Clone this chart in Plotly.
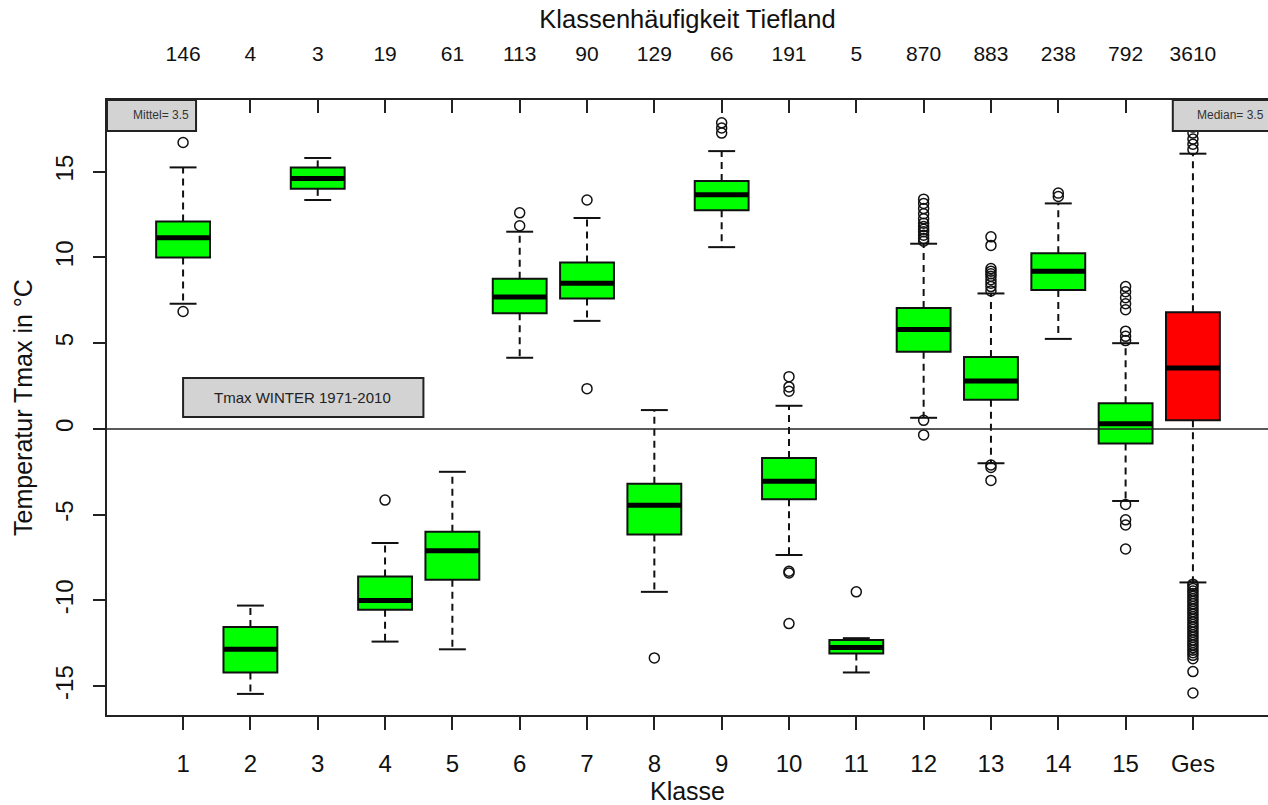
import plotly.graph_objects as go

# ---------------- data ----------------
classes = ["1", "2", "3", "4", "5", "6", "7", "8", "9", "10", "11", "12", "13", "14", "15", "Ges"]
counts = ["146", "4", "3", "19", "61", "113", "90", "129", "66", "191", "5", "870", "883", "238", "792", "3610"]

whisker_low = [7.3, -15.45, 13.35, -12.4, -12.85, 4.15, 6.3, -9.5, 10.6, -7.35, -14.2, 0.65, -2.0, 5.25, -4.2, -8.95]
q1 = [10.0, -14.2, 14.0, -10.55, -8.8, 6.75, 7.6, -6.15, 12.75, -4.1, -13.1, 4.5, 1.7, 8.1, -0.85, 0.5]
median = [11.15, -12.85, 14.6, -10.0, -7.1, 7.7, 8.5, -4.45, 13.65, -3.05, -12.75, 5.8, 2.8, 9.2, 0.3, 3.55]
q3 = [12.1, -11.55, 15.25, -8.6, -6.0, 8.75, 9.7, -3.2, 14.45, -1.7, -12.3, 7.05, 4.2, 10.25, 1.5, 6.8]
whisker_high = [15.25, -10.3, 15.8, -6.65, -2.5, 11.5, 12.3, 1.1, 16.2, 1.35, -12.2, 10.8, 7.9, 13.15, 5.0, 16.05]

outliers = [
    [16.7, 6.85],
    [],
    [],
    [-4.15],
    [],
    [11.85, 12.6],
    [13.35, 2.35],
    [-13.35],
    [17.25, 17.55, 17.85],
    [2.2, 2.45, 3.05, -8.3, -8.4, -11.35],
    [-9.5],
    [10.95, 11.1, 11.3, 11.5, 11.65, 11.8, 12.0, 12.25, 12.55, 12.85, 13.15, 13.4, 0.5, -0.35],
    [8.05, 8.3, 8.5, 8.7, 8.9, 9.05, 9.2, 9.35, 10.7, 11.2, -2.1, -2.25, -3.0],
    [13.55, 13.75],
    [5.15, 5.4, 5.7, 6.95, 7.3, 7.65, 8.0, 8.3, -4.4, -5.3, -5.6, -7.0],
    [16.3, 16.6, 16.9, 17.25, 17.6,
     -9.05, -9.15, -9.3, -9.45, -9.6, -9.75, -9.9, -10.05, -10.2, -10.35, -10.5, -10.65,
     -10.8, -10.95, -11.1, -11.25, -11.4, -11.55, -11.7, -11.85, -12.0, -12.15, -12.3,
     -12.45, -12.6, -12.75, -12.9, -13.05, -13.2, -13.4, -14.15, -15.4],
]

mean_text = "Mittel= 3.5"
median_text = "Median= 3.5"
period_text = "Tmax WINTER 1971-2010"

# ---------------- figure ----------------
FONT = "Liberation Sans, Arial, sans-serif"
xpos = list(range(1, len(classes) + 1))
n_green = 15

fig = go.Figure()

# boxes (whiskers drawn separately as dashed lines, like R)
fig.add_trace(go.Box(
    x=xpos[:n_green], q1=q1[:n_green], median=median[:n_green], q3=q3[:n_green],
    lowerfence=q1[:n_green], upperfence=q3[:n_green],
    width=0.8, whiskerwidth=0, fillcolor="#00FF00",
    line=dict(color="#111111", width=2), boxpoints=False, hoverinfo="skip", showlegend=False))
fig.add_trace(go.Box(
    x=xpos[n_green:], q1=q1[n_green:], median=median[n_green:], q3=q3[n_green:],
    lowerfence=q1[n_green:], upperfence=q3[n_green:],
    width=0.8, whiskerwidth=0, fillcolor="#FF0000",
    line=dict(color="#111111", width=2), boxpoints=False, hoverinfo="skip", showlegend=False))

# dashed whiskers
wx, wy = [], []
for i, xv in enumerate(xpos):
    wx += [xv, xv, None, xv, xv, None]
    wy += [q3[i], whisker_high[i], None, q1[i], whisker_low[i], None]
fig.add_trace(go.Scatter(x=wx, y=wy, mode="lines", line=dict(color="#111111", width=2, dash="7px,5px"),
                         hoverinfo="skip", showlegend=False))

# caps
cx, cy = [], []
for i, xv in enumerate(xpos):
    cx += [xv - 0.2, xv + 0.2, None, xv - 0.2, xv + 0.2, None]
    cy += [whisker_high[i], whisker_high[i], None, whisker_low[i], whisker_low[i], None]
fig.add_trace(go.Scatter(x=cx, y=cy, mode="lines", line=dict(color="#111111", width=2),
                         hoverinfo="skip", showlegend=False))

# thick medians
mx, my = [], []
for i, xv in enumerate(xpos):
    mx += [xv - 0.4, xv + 0.4, None]
    my += [median[i], median[i], None]
fig.add_trace(go.Scatter(x=mx, y=my, mode="lines", line=dict(color="#000000", width=5),
                         hoverinfo="skip", showlegend=False))

# outliers
ox, oy = [], []
for i, xv in enumerate(xpos):
    ox += [xv] * len(outliers[i])
    oy += outliers[i]
fig.add_trace(go.Scatter(x=ox, y=oy, mode="markers",
                         marker=dict(symbol="circle-open", size=10, color="#111111", line=dict(width=1.5)),
                         hoverinfo="skip", showlegend=False))

# dummy trace to activate the top axis
fig.add_trace(go.Scatter(x=[xpos[0]], y=[0], xaxis="x2", mode="markers", opacity=0,
                         hoverinfo="skip", showlegend=False))

# zero line
fig.add_shape(type="line", xref="paper", x0=0, x1=1, yref="y", y0=0, y1=0,
              line=dict(color="#222222", width=1.5), layer="above")

# "Tmax WINTER" box
fig.add_shape(type="rect", xref="x", yref="y", x0=1.0, x1=4.57, y0=0.7, y1=2.97,
              fillcolor="#D3D3D3", line=dict(color="#222222", width=2), layer="above")
fig.add_annotation(x=2.78, y=1.84, xref="x", yref="y", text=period_text, showarrow=False,
                   xanchor="center", yanchor="middle",
                   font=dict(family=FONT, size=15, color="#222222"))

# Mittel / Median boxes at the top corners
fig.add_shape(type="rect", xref="paper", yref="paper", x0=0, x1=0.0767, y0=0.9496, y1=1.0,
              fillcolor="#D3D3D3", line=dict(color="#222222", width=2), layer="above")
fig.add_annotation(x=0.0724, y=0.9756, xref="paper", yref="paper", xanchor="right", yanchor="middle",
                   text=mean_text, showarrow=False, font=dict(family=FONT, size=12, color="#333333"))
fig.add_shape(type="rect", xref="paper", yref="paper", x0=0.918, x1=1.02, y0=0.9496, y1=1.0,
              fillcolor="#D3D3D3", line=dict(color="#222222", width=2), layer="above")
fig.add_annotation(x=0.9983, y=0.9756, xref="paper", yref="paper", xanchor="right", yanchor="middle",
                   text=median_text, showarrow=False, font=dict(family=FONT, size=12, color="#333333"))

xr = [-0.13, 17.115]
fig.update_layout(
    width=1268, height=805,
    margin=dict(l=107, r=0, t=100, b=90),
    paper_bgcolor="white", plot_bgcolor="white",
    boxmode="overlay",
    font=dict(family=FONT, color="#111111"),
    xaxis=dict(range=xr, tickmode="array", tickvals=xpos, ticktext=classes,
               ticks="outside", ticklen=13, tickwidth=1.5, tickcolor="#222222",
               showline=True, linecolor="#222222", linewidth=2, showgrid=False, zeroline=False,
               tickfont=dict(size=24), ticklabelstandoff=13,
               title=dict(text="Klasse", font=dict(size=25), standoff=7), automargin=False),
    xaxis2=dict(range=xr, overlaying="x", side="top", anchor="y", tickmode="array",
                tickvals=xpos, ticktext=counts, ticks="inside", ticklen=13, tickwidth=1.5,
                tickcolor="#222222", showline=True, linecolor="#222222", linewidth=2,
                showgrid=False, zeroline=False, tickfont=dict(size=21), ticklabelstandoff=29,
                title=dict(text="Klassenhäufigkeit Tiefland", font=dict(size=25.5), standoff=6),
                automargin=False),
    yaxis=dict(range=[-16.68, 19.18], tickmode="array", tickvals=[-15, -10, -5, 0, 5, 10, 15],
               ticktext=["-15", "-10", "-5", "0", "5", "10", "15"], tickangle=-90,
               ticks="outside", ticklen=12, tickwidth=1.5, tickcolor="#222222",
               showline=True, linecolor="#222222", linewidth=2, showgrid=False, zeroline=False,
               tickfont=dict(size=24), ticklabelstandoff=10,
               title=dict(text="Temperatur Tmax in °C", font=dict(size=25), standoff=12),
               automargin=False),
)

fig.write_html("out.html")
